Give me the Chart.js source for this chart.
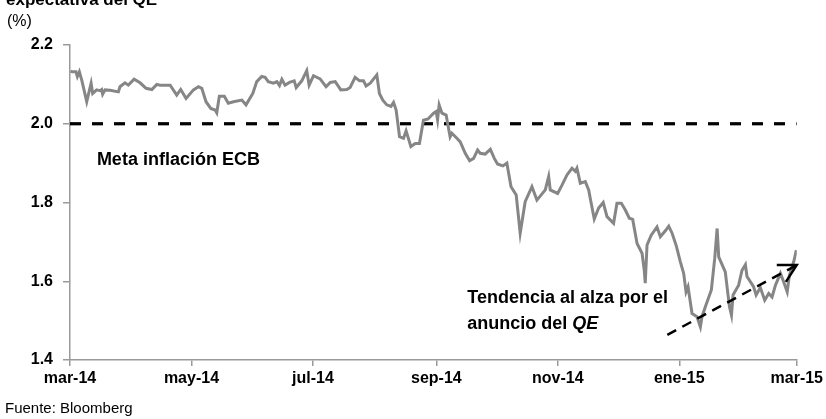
<!DOCTYPE html>
<html><head><meta charset="utf-8">
<script src="https://cdn.jsdelivr.net/npm/chart.js@4/dist/chart.umd.min.js"></script>
<style>html,body{margin:0;padding:0;background:#fff}#wrap{width:826px;height:419px;position:relative}</style>
</head><body><div id="wrap"><canvas id="c" width="826" height="419"></canvas></div>
<script>
// days since 1 Mar 2014
const dayOffsets = [0.3,1.0,3.0,3.7,4.7,5.9,8.4,10.6,11.4,13.4,15.1,15.9,16.4,17.6,20.1,24.3,25.1,27.6,29.3,32.2,35.2,38.2,41.1,43.6,45.2,50.3,53.6,55.6,58.3,62.0,64.5,66.2,68.3,70.7,72.9,73.7,75.0,77.5,79.5,82.1,86.3,88.4,91.8,93.8,96.3,98.0,99.6,102.2,103.9,105.2,106.4,108.0,110.2,112.6,113.6,116.4,118.9,120.1,122.3,125.6,128.6,130.7,133.2,136.0,139.0,140.7,143.2,145.4,147.4,148.7,150.8,154.1,155.4,157.1,159.1,161.2,162.5,163.8,165.5,167.5,168.8,171.2,173.4,175.5,177.5,179.8,182.6,183.9,184.6,185.4,186.8,188.9,190.9,191.8,194.3,196.0,198.5,200.7,202.7,204.7,206.0,208.5,211.1,213.1,214.7,217.4,219.4,221.5,224.1,226.1,228.6,232.0,234.5,238.7,240.4,241.2,244.9,247.1,249.6,252.1,253.8,254.6,256.3,258.8,260.5,261.3,263.3,265.5,267.8,269.7,273.0,274.7,276.9,278.9,280.9,282.6,284.8,287.3,288.4,288.9,289.8,291.9,294.8,296.5,299.3,300.7,302.4,304.5,306.5,308.2,309.4,310.4,312.4,314.9,316.6,317.4,319.1,322.1,323.8,325.0,325.8,329.1,331.2,332.2,333.0,335.8,337.5,339.2,340.0,343.3,344.6,346.7,348.9,350.9,352.6,354.3,356.8,358.4,360.2,361.3,363.5,364.8];
const inflationExpectation = [2.134,2.132,2.132,2.120,2.132,2.111,2.056,2.103,2.077,2.086,2.084,2.087,2.075,2.086,2.085,2.081,2.094,2.104,2.098,2.113,2.104,2.090,2.087,2.100,2.098,2.098,2.073,2.087,2.064,2.086,2.094,2.090,2.056,2.039,2.035,2.028,2.070,2.070,2.052,2.056,2.060,2.048,2.077,2.107,2.120,2.118,2.107,2.103,2.107,2.097,2.113,2.098,2.105,2.109,2.092,2.109,2.135,2.098,2.122,2.114,2.094,2.105,2.107,2.086,2.087,2.092,2.118,2.109,2.109,2.096,2.103,2.124,2.077,2.060,2.048,2.044,2.054,2.035,1.967,1.963,1.982,1.942,1.950,1.950,2.009,2.012,2.027,2.031,2.010,2.048,2.027,2.022,1.967,1.976,1.963,1.954,1.925,1.906,1.912,1.933,1.925,1.923,1.935,1.912,1.898,1.893,1.900,1.840,1.819,1.722,1.802,1.840,1.806,1.832,1.866,1.832,1.823,1.844,1.870,1.887,1.879,1.887,1.849,1.853,1.832,1.810,1.758,1.786,1.800,1.764,1.747,1.798,1.798,1.781,1.760,1.757,1.696,1.671,1.628,1.595,1.692,1.717,1.738,1.713,1.730,1.740,1.722,1.690,1.650,1.620,1.573,1.586,1.518,1.510,1.484,1.510,1.535,1.578,1.658,1.734,1.662,1.624,1.535,1.514,1.565,1.590,1.628,1.642,1.612,1.586,1.565,1.584,1.552,1.569,1.560,1.590,1.620,1.599,1.573,1.615,1.650,1.679];
const tickDays = [0,61,122,184,245,306,365];
const tickLabels = ['mar-14','may-14','jul-14','sep-14','nov-14','ene-15','mar-15'];
const yTicks = [1.4,1.6,1.8,2.0,2.2];
const ecbTarget = 2.0;
const trendFrom = [300,1.464];
const trendTo = [365,1.641];

const FONT = "'Liberation Sans', Arial, sans-serif";

const textPlugin = {
  id: 'texts',
  afterDraw(chart) {
    const ctx = chart.ctx, xs = chart.scales.x, ys = chart.scales.y;
    ctx.save();
    ctx.fillStyle = '#000';
    ctx.textBaseline = 'alphabetic';
    ctx.textAlign = 'left';
    ctx.font = 'bold 17px ' + FONT;
    ctx.fillText('expectativa del QE', 6, 5);
    ctx.font = '16px ' + FONT;
    ctx.fillText('(%)', 7, 26);
    ctx.font = '15px ' + FONT;
    ctx.fillText('Fuente: Bloomberg', 5, 413);
    // annotations
    ctx.font = 'bold 18px ' + FONT;
    ctx.textBaseline = 'middle';
    ctx.fillText('Meta inflación ECB', xs.getPixelForValue(13.5), ys.getPixelForValue(1.908));
    const tx = xs.getPixelForValue(199.5);
    ctx.fillText('Tendencia al alza por el', tx, ys.getPixelForValue(1.557));
    const y2 = ys.getPixelForValue(1.491);
    const pre = 'anuncio del ';
    ctx.fillText(pre, tx, y2);
    const w = ctx.measureText(pre).width;
    ctx.font = 'italic bold 18px ' + FONT;
    ctx.fillText('QE', tx + w, y2);
    // arrow
    const x0 = xs.getPixelForValue(trendFrom[0]), y0 = ys.getPixelForValue(trendFrom[1]);
    const x1 = xs.getPixelForValue(trendTo[0]), y1 = ys.getPixelForValue(trendTo[1]);
    ctx.strokeStyle = '#000';
    ctx.lineWidth = 2.5;
    ctx.setLineDash([10, 7]);
    ctx.beginPath(); ctx.moveTo(x0, y0); ctx.lineTo(x1, y1); ctx.stroke();
    ctx.setLineDash([]);
    const ang = Math.atan2(y1 - y0, x1 - x0), L = 20, a = 0.5;
    ctx.beginPath();
    ctx.moveTo(x1 - L * Math.cos(ang - a), y1 - L * Math.sin(ang - a));
    ctx.lineTo(x1, y1);
    ctx.lineTo(x1 - L * Math.cos(ang + a), y1 - L * Math.sin(ang + a));
    ctx.stroke();
    ctx.restore();
  }
};

new Chart(document.getElementById('c'), {
  type: 'line',
  data: {
    datasets: [
      {
        data: dayOffsets.map((d, i) => ({x: d, y: inflationExpectation[i]})),
        borderColor: '#868686', borderWidth: 3, pointRadius: 0, tension: 0, fill: false
      },
      {
        data: [{x: tickDays[0], y: ecbTarget}, {x: tickDays[tickDays.length - 1], y: ecbTarget}],
        borderColor: '#000', borderWidth: 3.2, borderDash: [11, 11], pointRadius: 0, fill: false
      }
    ]
  },
  options: {
    responsive: false, animation: false, devicePixelRatio: 1,
    layout: {padding: {left: 0, top: 45, right: 29, bottom: 19}},
    plugins: {legend: {display: false}, tooltip: {enabled: false}},
    scales: {
      x: {
        type: 'linear', min: tickDays[0], max: tickDays[tickDays.length - 1],
        afterBuildTicks: s => { s.ticks = tickDays.map(v => ({value: v})); },
        afterFit: s => { s.height = 40; },
        ticks: {callback: (v, i) => tickLabels[i], autoSkip: false, maxRotation: 0, color: '#000',
                font: {family: FONT, size: 16, weight: 'bold'}, padding: 3},
        grid: {drawOnChartArea: false, tickLength: 6, color: '#9a9a9a', lineWidth: 1.5},
        border: {color: '#9a9a9a', width: 1.5}
      },
      y: {
        min: 1.4, max: 2.2,
        afterBuildTicks: s => { s.ticks = yTicks.map(v => ({value: v})); },
        afterFit: s => { s.width = 70; },
        ticks: {callback: v => v.toFixed(1), color: '#000', font: {family: FONT, size: 16, weight: 'bold'}, padding: 10},
        grid: {drawOnChartArea: false, tickLength: 7, color: '#9a9a9a', lineWidth: 1.5},
        border: {color: '#9a9a9a', width: 1.5}
      }
    }
  },
  plugins: [textPlugin]
});
</script>
</body></html>
